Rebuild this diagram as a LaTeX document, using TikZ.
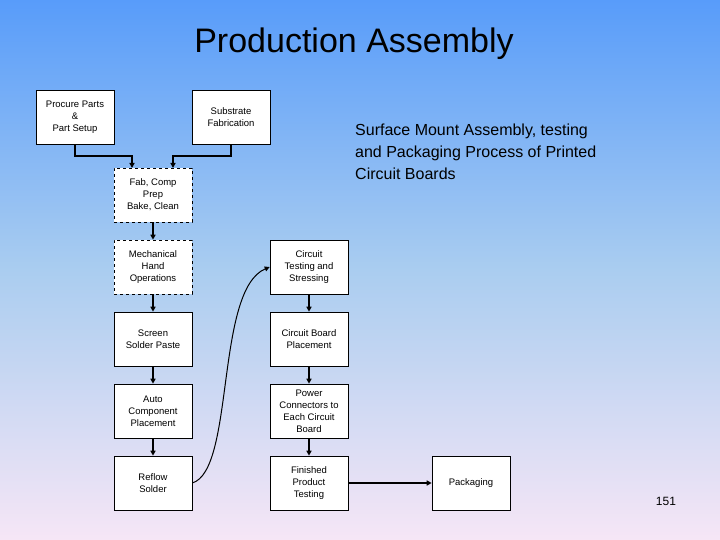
\documentclass[tikz,border=0pt]{standalone}
\usepackage{fontspec}
\setmainfont{Liberation Sans}
\usetikzlibrary{arrows.meta}
\definecolor{topc}{RGB}{88,156,250}
\definecolor{midc}{RGB}{170,205,240}
\definecolor{botc}{RGB}{246,230,246}
\begin{document}
\begin{tikzpicture}[x=1pt,y=-1pt,
  box/.style={draw=black,fill=white,line width=0.6pt,minimum width=78pt,minimum height=54pt,align=center,inner sep=1pt,font=\fontsize{9.5}{12}\selectfont},
  dbox/.style={box,dashed},
  arr/.style={line width=1.4pt,-{Triangle[length=5pt,width=5pt]}}]
\shade[top color=topc,bottom color=midc] (0,0) rectangle (720,270);
\shade[top color=midc,bottom color=botc] (0,270) rectangle (720,540);
\useasboundingbox (0,0) rectangle (720,540);
\node (title) at (354,44) {\fontsize{34}{40}\selectfont Production Assembly};
\node (proc) [box] at (75,117) {Procure Parts\\\&\\Part Setup};
\node (subs) [box] at (231,117) {Substrate\\Fabrication};
\node (fab) [dbox] at (153,195) {Fab, Comp\\Prep\\Bake, Clean};
\node (mech) [dbox] at (153,267) {Mechanical\\Hand\\Operations};
\node (scr) [box] at (153,339) {Screen\\Solder Paste};
\node (auto) [box] at (153,411) {Auto\\Component\\Placement};
\node (refl) [box] at (153,483) {Reflow\\Solder};
\node (ctest) [box] at (309,267) {Circuit\\Testing and\\Stressing};
\node (cbp) [box] at (309,339) {Circuit Board\\Placement};
\node (pow) [box] at (309,411) {Power\\Connectors to\\Each Circuit\\Board};
\node (fin) [box] at (309,483) {Finished\\Product\\Testing};
\node (pack) [box] at (471,483) {Packaging};
\node (desc) [anchor=north west,align=left,font=\fontsize{16}{22}\selectfont,inner sep=0pt] at (355,124) {Surface Mount Assembly, testing\\and Packaging Process of Printed\\Circuit Boards};
\node (pg) at (666,501) {\fontsize{12}{14}\selectfont 151};
\draw[arr] (proc.south) |- (132,156) -- (132,168);
\draw[arr] (subs.south) |- (173,156) -- (173,168);
\draw[arr] (fab) -- (mech);
\draw[arr] (mech) -- (scr);
\draw[arr] (scr) -- (auto);
\draw[arr] (auto) -- (refl);
\draw[line width=1pt,-{Triangle[length=5pt,width=5pt]}] (refl.east) .. controls (235,470) and (215,290) .. (ctest.west);
\draw[arr] (ctest) -- (cbp);
\draw[arr] (cbp) -- (pow);
\draw[arr] (pow) -- (fin);
\draw[arr] (fin) -- (pack);
\end{tikzpicture}
\end{document}
